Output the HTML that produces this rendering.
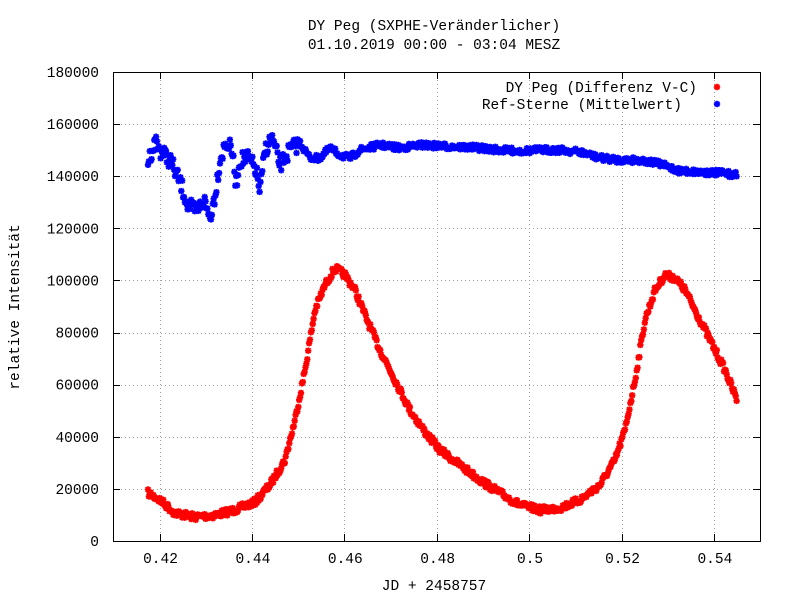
<!DOCTYPE html>
<html><head><meta charset="utf-8"><style>
body{margin:0;background:#fff}
svg text{font-family:"Liberation Mono",monospace;font-size:14.5px;fill:#000}
</style></head><body>
<svg id="s" width="800" height="600" xmlns="http://www.w3.org/2000/svg">
<rect width="800" height="600" fill="#fff"/>
<g id="grid" stroke="#a0a0a0" stroke-width="1" stroke-dasharray="1,3"></g>
<g id="ticks" stroke="#000" stroke-width="1"></g>
<g id="lab"></g>
<g id="data"></g>
<rect x="113.5" y="72.5" width="647" height="469" fill="none" stroke="#000"/>
<text x="434" y="30" text-anchor="middle">DY Peg (SXPHE-Veränderlicher)</text>
<text x="434" y="49" text-anchor="middle">01.10.2019 00:00 - 03:04 MESZ</text>
<text x="434" y="590" text-anchor="middle">JD + 2458757</text>
<text transform="translate(19,307) rotate(-90)" text-anchor="middle">relative Intensität</text>
<text x="697" y="92" text-anchor="end">DY Peg (Differenz V-C)</text>
<text x="682" y="109" text-anchor="end">Ref-Sterne (Mittelwert)</text>
</svg>
<script>
var NS="http://www.w3.org/2000/svg";
function el(p,t,a,txt){var e=document.createElementNS(NS,t);for(var k in a)e.setAttribute(k,a[k]);if(txt!=null)e.textContent=txt;document.getElementById(p).appendChild(e);return e;}
for(var i=0;i<=9;i++){var y=541-i*469/9;var yy=Math.round(y)+0.5;
 if(i>0&&i<9)el("grid","line",{x1:113,x2:760,y1:yy,y2:yy});
 el("ticks","line",{x1:113,x2:120,y1:yy,y2:yy});el("ticks","line",{x1:753,x2:760,y1:yy,y2:yy});
 el("lab","text",{x:99,y:y+5,"text-anchor":"end"},String(i*20000));}
var xl=["0.42","0.44","0.46","0.48","0.5","0.52","0.54"];
for(var i=0;i<7;i++){var x=159.5+i*92.4;var xx=Math.round(x)+0.5;
 el("grid","line",{x1:xx,x2:xx,y1:72,y2:541});
 el("ticks","line",{x1:xx,x2:xx,y1:541,y2:534});el("ticks","line",{x1:xx,x2:xx,y1:72,y2:79});
 el("lab","text",{x:x+1,y:563,"text-anchor":"middle"},xl[i]);}
var seed=7;function r(){seed=(seed*16807)%2147483647;return seed/2147483647;}
function interp(p,x){for(var i=0;i<p.length-1;i++){if(x>=p[i][0]&&x<=p[i+1][0]){var t=(x-p[i][0])/(p[i+1][0]-p[i][0]);return p[i][1]+t*(p[i+1][1]-p[i][1]);}}return p[p.length-1][1];}
var red=[[148,493],[160,500],[175,513],[195,517],[215,515],[235,510],[255,502],[270,485],[285,460],[295,420],[305,370],[315,310],[325,285],[335,268],[345,275],[355,290],[365,315],[380,350],[395,380],[410,410],[425,432],[440,450],[460,465],[480,480],[500,493],[520,505],[540,510],[560,508],[580,500],[600,485],[615,460],[625,430],[635,380],[645,320],[655,290],[665,275],[675,278],[685,290],[700,320],[715,350],[725,370],[737,400]];
var blue=[[148,162],[152,150],[156,142],[160,150],[170,160],[180,182],[188,205],[196,212],[204,200],[210,218],[215,195],[220,160],[226,143],[232,150],[236,185],[240,160],[248,158],[256,170],[260,192],[265,150],[272,138],[280,165],[290,150],[300,143],[310,158],[320,158],[330,148],[340,155],[350,158],[360,150],[380,145],[400,148],[420,145],[440,146],[460,147],[480,148],[500,150],[520,151],[540,150],[560,150],[580,152],[600,158],[620,160],[640,160],[660,164],[680,171],[700,172],[720,173],[737,175]];
function star(x,y,c){var s=3.2,d=2.4;el("data","path",{d:"M"+(x-s)+","+y+"h"+(2*s)+"M"+x+","+(y-s)+"v"+(2*s)+"M"+(x-d)+","+(y-d)+"l"+(2*d)+","+(2*d)+"M"+(x-d)+","+(y+d)+"l"+(2*d)+","+(-2*d),stroke:c,"stroke-width":1.8});}
for(var x=148;x<=737;x+=0.9){var y=interp(red,x)+(r()-0.5)*7;star(x,y,"#f00");}
for(var x=148;x<=737;x+=0.9){var n=x<300?16:6;var y=interp(blue,x)+(r()-0.5)*n;star(x,y,"#00f");}
star(717,87,"#f00");star(717,104,"#00f");
</script>
</body></html>
